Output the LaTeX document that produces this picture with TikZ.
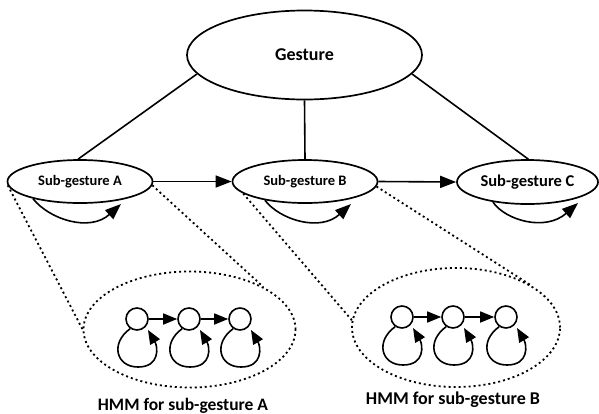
\documentclass[tikz,border=0pt]{standalone}
\usepackage{fontspec}
\setmainfont{Carlito}
\usetikzlibrary{shapes.geometric,arrows.meta}
\begin{document}
\begin{tikzpicture}[x=1pt,y=-1pt,
  ell/.style={draw,ellipse,line width=1.7pt,inner sep=0pt},
  hmm/.style={draw,ellipse,line width=1.8pt,dash pattern=on 2pt off 3pt,inner sep=0pt},
  dot/.style={line width=1.8pt,dash pattern=on 2pt off 3pt},
  conn/.style={line width=1.6pt},
  arr/.style={line width=1.6pt,-{Triangle[length=16pt,width=12pt]}},
  sarr/.style={line width=1.6pt,-{Triangle[length=14pt,width=11pt]}},
  state/.style={draw,circle,line width=1.6pt,minimum size=22pt,inner sep=0pt},
  lbl/.style={anchor=base,inner sep=0pt}
]
\useasboundingbox (0,0) rectangle (599,413);

% top level
\node[ell,minimum width=235pt,minimum height=89pt,font=\bfseries\fontsize{18}{21}\selectfont] (G) at (304.5,55) {Gesture};
\node[ell,minimum width=145pt,minimum height=43pt,font=\bfseries\fontsize{14.5}{17}\selectfont] (A) at (80,181.5) {Sub-gesture A};
\node[ell,minimum width=145pt,minimum height=43pt,font=\bfseries\fontsize{14.5}{17}\selectfont] (B) at (305,181.5) {Sub-gesture B};
\node[ell,minimum width=141pt,minimum height=44pt,font=\bfseries\fontsize{16.5}{19}\selectfont] (C) at (527.5,182) {Sub-gesture C};

\draw[conn] (G.190) -- (A.95);
\draw[conn] (G.south) -- (B.north);
\draw[conn] (G.-10) -- (C.88);
\draw[arr] (A.east) -- (B.west);
\draw[arr] (B.east) -- (C.west);

% self loops of sub-gestures
\coordinate (Ae) at (121,204);
\coordinate (Be) at (351,204);
\coordinate (Ce) at (578,203);
\draw[arr] (A.200) .. controls (50,220) and (90,232) .. (Ae);
\draw[arr] (B.205) .. controls (280,220) and (320,232) .. (Be);
\draw[arr] (C.210) .. controls (505,220) and (545,232) .. (Ce);

% HMM groups
\node[hmm,minimum width=212pt,minimum height=116pt] (HA) at (189.5,329.5) {};
\node[hmm,minimum width=208pt,minimum height=119pt] (HB) at (456,327.5) {};

\draw[dot] (A.183) -- (HA.west);
\draw[dot] (A.-3) -- (HA.30);
\draw[dot] (B.191) -- (HB.176);
\draw[dot] (B.-4) -- (HB.30);

% HMM states
\foreach \n/\cx/\cy in {a1/137/319, a2/189/319, a3/240/319, b1/402/317, b2/453/317, b3/506/317} {
  \node[state] (\n) at (\cx,\cy) {};
  \draw[sarr] (\n.235) .. controls (\cx-27,\cy+24) and (\cx-21,\cy+48) .. (\cx+1,\cy+48)
     .. controls (\cx+23,\cy+48) and (\cx+21,\cy+28) .. (\cx+11,\cy+11);
}
\draw[sarr] (a1.east) -- (a2.west);
\draw[sarr] (a2.east) -- (a3.west);
\draw[sarr] (b1.east) -- (b2.west);
\draw[sarr] (b2.east) -- (b3.west);

\node[lbl,font=\bfseries\fontsize{17.5}{20}\selectfont] (LA) at (183,410) {HMM for sub-gesture A};
\node[lbl,font=\bfseries\fontsize{18}{21}\selectfont] (LB) at (453,404.5) {HMM for sub-gesture B};
\end{tikzpicture}
\end{document}
